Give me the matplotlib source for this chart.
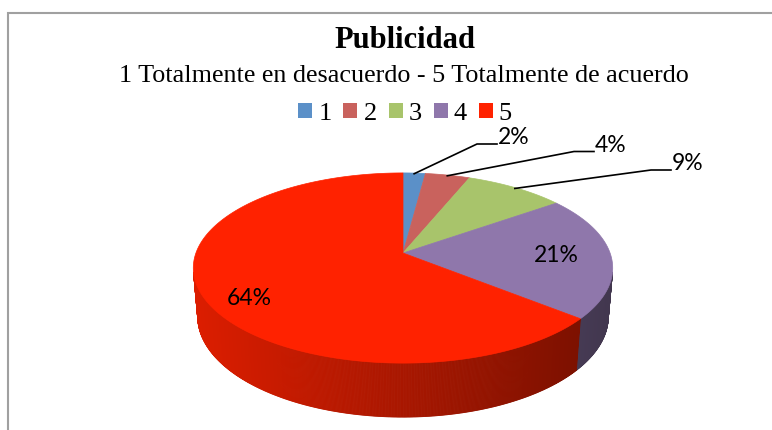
import matplotlib.pyplot as plt
import numpy as np
from matplotlib.patches import Polygon, Patch

categories = ["1", "2", "3", "4", "5"]
values = [2, 4, 9, 21, 64]
pct_labels = ["2%", "4%", "9%", "21%", "64%"]
colors = ["#5b90c8", "#c9625d", "#a8c46b", "#8f77ab", "#ff2200"]

title = "Publicidad"
subtitle = "1 Totalmente en desacuerdo - 5 Totalmente de acuerdo"

# 3d pie view: camera elevation, distance, focal length (pixels), depth
elev = np.radians(26.6)
dist = 5.66
focal = 1172.0
depth = 0.264
cx, cy = 403.0, 253.0


def proj(theta, rho=1.0, z=0.0):
    x = rho * np.sin(theta)
    y = rho * np.cos(theta)
    d = dist + y * np.cos(elev) - z * np.sin(elev)
    v = y * np.sin(elev) + z * np.cos(elev)
    return cx + focal * x / d, cy - focal * v / d


def shade(hexcol, f):
    r, g, b = [int(hexcol[i:i + 2], 16) / 255 for i in (1, 3, 5)]
    return (r * f, g * f, b * f)


fig = plt.figure(figsize=(7.72, 4.30), dpi=100)
ax = fig.add_axes([0, 0, 1, 1])
ax.set_xlim(0, 772)
ax.set_ylim(430, 0)
ax.axis("off")

# chart frame (cut by the image on the right and bottom)
ax.plot([7.5, 7.5, 780], [440, 12.5, 12.5], color="#a0a0a0", lw=1.5,
         solid_joinstyle="miter")

frac = np.array(values, dtype=float) / sum(values)
edges = np.concatenate([[0], np.cumsum(frac)]) * 2 * np.pi

# visible part of the side wall
cos_lim = -1.0 / (dist * np.cos(elev))
vis_lo = np.arccos(cos_lim)
vis_hi = 2 * np.pi - vis_lo

for i in range(len(values)):
    a0 = max(edges[i], vis_lo)
    a1 = min(edges[i + 1], vis_hi)
    if a1 <= a0:
        continue
    ts = np.linspace(a0, a1, int(200 * (a1 - a0)) + 2)
    for t0, t1 in zip(ts[:-1], ts[1:]):
        p = [proj(t0), proj(t1), proj(t1, z=-depth), proj(t0, z=-depth)]
        xm = (p[0][0] + p[1][0]) / 2 - cx
        c = shade(colors[i], 0.66 - 0.2 * xm / 208)
        ax.add_patch(Polygon(p, closed=True, fc=c, ec=c, lw=0.6))

for i in range(len(values)):
    ts = np.linspace(edges[i], edges[i + 1], int(120 * (edges[i + 1] - edges[i])) + 3)
    pts = [proj(0, 0)] + [proj(t) for t in ts]
    ax.add_patch(Polygon(pts, closed=True, fc=colors[i], ec=colors[i], lw=0.5))

# data labels
pct_font = dict(family="Lato", fontsize=16.5, color="black")
mids = (edges[:-1] + edges[1:]) / 2
outside_pos = [(514, 137.5), (611, 145), (688, 163.5)]
for i in range(3):
    tx, ty = proj(mids[i], 0.99)
    lx, ly = outside_pos[i]
    ax.plot([tx, lx - 37, lx - 17], [ty, ly + 6.5, ly + 6.5], color="black", lw=1.2)
    ax.text(lx, ly, pct_labels[i], ha="center", va="center", **pct_font)

inside_pos = [proj(mids[3], 0.74), proj(mids[4], 0.78)]
inside_nudge = [(0, 0), (0, 13)]
for j, i in enumerate([3, 4]):
    px, py = inside_pos[j]
    ax.text(px + inside_nudge[j][0], py + inside_nudge[j][1], pct_labels[i],
            ha="center", va="center", **pct_font)

ax.text(405, 48, title, ha="center", va="baseline", family="Liberation Serif",
        fontsize=22, fontweight="bold")
ax.text(404, 82, subtitle, ha="center", va="baseline", family="Liberation Serif",
        fontsize=18.8)

handles = [Patch(fc=c, ec="none") for c in colors]
ax.legend(handles, categories, loc="center", bbox_to_anchor=(405, 114),
          bbox_transform=ax.transData, ncol=5, frameon=False,
          prop=dict(family="Liberation Serif", size=19),
          handlelength=0.53, handleheight=0.5, handletextpad=0.23,
          columnspacing=0.45, borderpad=0, borderaxespad=0)

fig.savefig("out.png", dpi=100)
